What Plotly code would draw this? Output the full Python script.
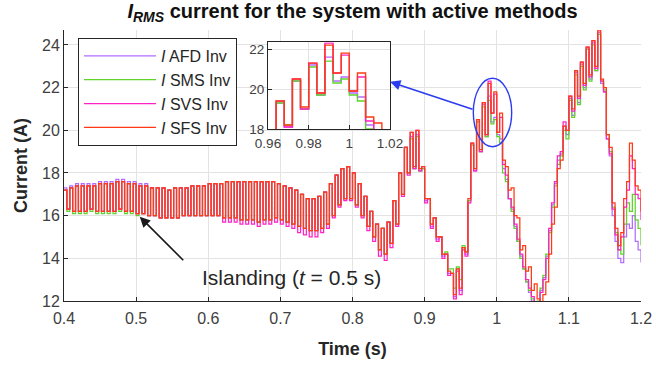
import numpy as np
import plotly.graph_objects as go

# time grid (s)
T_START, T_STEP, N_PTS = 0.4, 0.004, 201
time_s = np.round(T_START + T_STEP * np.arange(N_PTS), 4)

series_names = ["<i>I</i> AFD Inv", "<i>I</i> SMS Inv", "<i>I</i> SVS Inv", "<i>I</i> SFS Inv"]
series_colors = ["#b46cff", "#5fd32c", "#ff22c4", "#ff3a14"]

afd = [
    17.3, 16.3, 17.4, 16.2, 17.5, 16.2, 17.5, 16.2, 17.5, 16.3,
    17.5, 16.2, 17.6, 16.2, 17.6, 16.2, 17.6, 16.2, 17.7, 16.3,
    17.7, 16.2, 17.6, 16.2, 17.6, 16.1, 17.5, 16.1, 17.5, 16.0,
    17.3, 16.0, 17.3, 15.9, 17.3, 15.9, 17.2, 15.9, 17.3, 15.9,
    17.3, 16.0, 17.3, 16.0, 17.4, 16.0, 17.4, 16.0, 17.4, 16.0,
    17.5, 16.0, 17.5, 16.0, 17.5, 15.9, 17.6, 15.9, 17.6, 15.9,
    17.6, 15.8, 17.6, 15.8, 17.6, 15.8, 17.6, 15.7, 17.6, 15.8,
    17.6, 15.8, 17.6, 15.9, 17.5, 15.8, 17.4, 15.7, 17.3, 15.6,
    17.2, 15.5, 17.0, 15.4, 16.8, 15.3, 16.8, 15.3, 16.9, 15.4,
    17.1, 15.6, 17.5, 16.0, 17.9, 16.5, 18.2, 16.8, 18.3, 16.8,
    18.0, 16.5, 17.5, 16.0, 16.9, 15.5, 16.2, 15.0, 15.6, 14.4,
    15.4, 14.2, 15.7, 14.7, 16.7, 15.6, 18.0, 17.0, 19.2, 18.0,
    19.7, 18.2, 19.8, 18.1, 18.2, 16.7, 16.8, 15.5, 15.9, 14.9,
    15.0, 14.1, 14.2, 13.3, 13.3, 12.2, 13.5, 12.5, 14.5, 14.2,
    16.7, 19.3, 18.1, 20.4, 19.0, 21.2, 19.7, 21.6, 20.4, 20.6,
    19.8, 19.6, 18.2, 17.7, 16.8, 16.3, 15.5, 14.8, 14.1, 13.5,
    12.9, 12.4, 12.0, 11.7, 11.9, 12.5, 13.1, 14.1, 15.3, 16.5,
    17.5, 18.6, 18.9, 20.2, 19.8, 21.5, 20.7, 22.7, 21.3, 23.1,
    22.0, 23.8, 22.4, 24.1, 22.8, 24.5, 22.2, 21.8, 19.6, 18.8,
    16.0, 14.8, 14.0, 13.8, 15.0, 15.6, 15.4, 16.0, 14.8, 14.4,
    13.8,
]

sms = [
    17.2, 16.2, 17.3, 16.1, 17.4, 16.1, 17.4, 16.1, 17.4, 16.2,
    17.4, 16.1, 17.5, 16.1, 17.5, 16.1, 17.5, 16.1, 17.6, 16.2,
    17.6, 16.1, 17.5, 16.1, 17.5, 16.0, 17.4, 16.1, 17.4, 16.0,
    17.3, 16.0, 17.3, 15.9, 17.3, 15.9, 17.2, 15.9, 17.3, 15.9,
    17.3, 16.0, 17.3, 16.0, 17.4, 16.0, 17.4, 16.0, 17.4, 16.0,
    17.5, 16.0, 17.5, 16.0, 17.5, 15.9, 17.6, 15.9, 17.6, 15.9,
    17.6, 15.8, 17.6, 15.8, 17.6, 15.8, 17.6, 15.7, 17.6, 15.8,
    17.6, 15.8, 17.6, 15.9, 17.5, 15.8, 17.4, 15.7, 17.3, 15.6,
    17.2, 15.5, 17.0, 15.4, 16.8, 15.3, 16.8, 15.3, 16.9, 15.4,
    17.1, 15.6, 17.5, 16.0, 17.9, 16.5, 18.2, 16.8, 18.3, 16.8,
    18.0, 16.5, 17.5, 16.0, 16.9, 15.5, 16.2, 15.0, 15.6, 14.4,
    15.4, 14.2, 15.7, 14.7, 16.7, 15.6, 18.0, 17.0, 19.2, 18.0,
    19.6, 18.2, 19.7, 18.1, 18.2, 16.8, 16.8, 15.6, 15.9, 15.0,
    15.0, 14.2, 14.3, 13.5, 13.5, 12.6, 13.6, 13.0, 14.6, 14.3,
    16.7, 19.3, 18.2, 20.4, 19.0, 21.1, 19.7, 21.4, 20.3, 20.5,
    19.7, 19.4, 18.0, 17.6, 16.8, 16.2, 15.4, 14.8, 14.0, 13.5,
    12.9, 12.5, 12.1, 11.8, 12.0, 12.6, 13.2, 14.2, 15.2, 16.4,
    17.4, 18.4, 18.8, 20.0, 19.6, 21.4, 20.6, 22.6, 21.2, 23.0,
    21.9, 23.8, 22.3, 24.0, 22.8, 24.5, 22.3, 21.9, 19.8, 19.0,
    16.4, 15.2, 14.4, 14.2, 15.6, 16.6, 16.2, 17.0, 15.8, 15.4,
    14.6,
]

svs = [
    17.2, 16.3, 17.3, 16.2, 17.4, 16.2, 17.4, 16.2, 17.4, 16.3,
    17.4, 16.2, 17.5, 16.2, 17.5, 16.2, 17.5, 16.2, 17.6, 16.3,
    17.6, 16.2, 17.5, 16.2, 17.5, 16.1, 17.4, 16.1, 17.4, 16.0,
    17.3, 16.0, 17.3, 15.9, 17.3, 15.9, 17.2, 15.9, 17.3, 15.9,
    17.3, 16.0, 17.3, 16.0, 17.4, 16.0, 17.4, 16.0, 17.4, 16.0,
    17.5, 16.0, 17.5, 16.0, 17.5, 15.7, 17.6, 15.7, 17.6, 15.7,
    17.6, 15.6, 17.6, 15.6, 17.6, 15.6, 17.6, 15.5, 17.6, 15.6,
    17.6, 15.6, 17.6, 15.7, 17.5, 15.6, 17.4, 15.5, 17.3, 15.4,
    17.2, 15.2, 17.0, 15.1, 16.8, 15.0, 16.8, 15.0, 16.9, 15.2,
    17.1, 15.4, 17.5, 15.9, 17.9, 16.4, 18.2, 16.7, 18.3, 16.7,
    18.0, 16.4, 17.5, 15.9, 16.9, 15.3, 16.2, 14.8, 15.6, 14.1,
    15.4, 13.9, 15.7, 14.5, 16.7, 15.5, 18.0, 16.9, 19.2, 17.9,
    19.9, 18.2, 20.0, 18.1, 18.3, 16.6, 16.8, 15.4, 15.9, 14.8,
    15.0, 14.0, 14.2, 13.2, 13.3, 12.1, 13.4, 12.3, 14.4, 14.1,
    16.6, 19.4, 18.1, 20.5, 19.0, 21.3, 19.8, 22.3, 20.8, 21.7,
    19.9, 20.6, 18.4, 17.9, 16.8, 16.4, 15.6, 14.9, 14.2, 13.6,
    13.0, 12.6, 12.2, 11.8, 11.9, 12.4, 13.0, 14.0, 15.4, 16.6,
    17.6, 18.8, 19.0, 20.4, 20.0, 21.6, 20.9, 22.8, 21.5, 23.2,
    22.1, 23.9, 22.5, 24.2, 22.9, 24.6, 22.3, 21.8, 19.6, 18.9,
    16.3, 15.1, 14.4, 15.0, 16.4, 17.2, 18.8, 18.2, 17.0, 16.8,
    15.8,
]

sfs = [
    17.2, 16.3, 17.3, 16.2, 17.4, 16.2, 17.4, 16.2, 17.4, 16.3,
    17.4, 16.2, 17.5, 16.2, 17.5, 16.2, 17.5, 16.2, 17.6, 16.3,
    17.6, 16.2, 17.5, 16.2, 17.5, 16.1, 17.4, 16.1, 17.4, 16.0,
    17.3, 16.0, 17.3, 15.9, 17.3, 15.9, 17.2, 15.9, 17.3, 15.9,
    17.3, 16.0, 17.3, 16.0, 17.4, 16.0, 17.4, 16.0, 17.4, 16.0,
    17.5, 16.0, 17.5, 16.0, 17.5, 15.9, 17.6, 15.9, 17.6, 15.9,
    17.6, 15.8, 17.6, 15.8, 17.6, 15.8, 17.6, 15.7, 17.6, 15.8,
    17.6, 15.8, 17.6, 15.9, 17.5, 15.8, 17.4, 15.7, 17.3, 15.6,
    17.2, 15.5, 17.0, 15.4, 16.8, 15.3, 16.8, 15.3, 16.9, 15.4,
    17.1, 15.6, 17.5, 16.0, 17.9, 16.5, 18.2, 16.8, 18.3, 16.8,
    18.0, 16.5, 17.5, 16.0, 16.9, 15.5, 16.2, 15.0, 15.6, 14.4,
    15.4, 14.2, 15.7, 14.7, 16.7, 15.6, 18.0, 17.0, 19.2, 18.0,
    19.9, 18.3, 20.0, 18.2, 18.3, 16.8, 16.8, 15.6, 15.9, 15.0,
    15.0, 14.2, 14.2, 13.4, 13.3, 12.3, 13.5, 12.6, 14.5, 14.3,
    16.8, 19.4, 18.2, 20.5, 19.1, 21.3, 19.8, 22.2, 20.8, 21.8,
    19.9, 20.8, 18.6, 18.3, 17.2, 17.3, 16.0, 15.9, 14.4, 14.6,
    13.4, 13.6, 12.5, 12.8, 12.1, 11.8, 12.3, 12.9, 14.2, 15.6,
    16.4, 18.2, 18.6, 20.2, 20.0, 21.6, 21.0, 22.8, 21.6, 23.2,
    22.2, 23.9, 22.6, 24.2, 23.0, 24.7, 22.4, 22.0, 19.8, 19.2,
    16.6, 15.4, 14.6, 15.2, 16.8, 17.6, 19.4, 18.6, 17.4, 17.2,
    16.2,
]

all_series = [afd, sms, svs, sfs]

x_ticks_main = [0.4, 0.5, 0.6, 0.7, 0.8, 0.9, 1.0, 1.1, 1.2]
x_ticklabels_main = ["0.4", "0.5", "0.6", "0.7", "0.8", "0.9", "1", "1.1", "1.2"]
y_ticks_main = [12, 14, 16, 18, 20, 22, 24]
x_ticks_inset = [0.96, 0.98, 1.0, 1.02]
x_ticklabels_inset = ["0.96", "0.98", "1", "1.02"]
y_ticks_inset = [18, 20, 22]

FONT = "Liberation Sans, Arial, Helvetica, sans-serif"
TXT = "#262626"

fig = go.Figure()
for name, vals, col in zip(series_names, all_series, series_colors):
    fig.add_trace(go.Scatter(
        x=time_s, y=vals, name=name, mode="lines",
        line=dict(color=col, width=1.25, shape="hv"),
        legendgroup=name, xaxis="x", yaxis="y"))
for name, vals, col in zip(series_names, all_series, series_colors):
    fig.add_trace(go.Scatter(
        x=time_s, y=vals, name=name, mode="lines", showlegend=False,
        line=dict(color=col, width=1.4, shape="hv"),
        legendgroup=name, xaxis="x2", yaxis="y2"))

axis_common = dict(showgrid=True, gridcolor="#e3e3e3", gridwidth=1, zeroline=False,
                   showline=True, linecolor=TXT, linewidth=1, ticks="inside",
                   ticklen=4, tickcolor=TXT, automargin=False)

fig.update_layout(
    width=656, height=367,
    margin=dict(l=64, r=15, t=30, b=66, pad=0),
    paper_bgcolor="white", plot_bgcolor="white",
    font=dict(family=FONT, color=TXT),
    title=dict(text="<b><i>I</i><sub><i>RMS</i></sub> current for the system with active methods</b>",
               x=352.5 / 656, xanchor="center", y=0.99, yanchor="top",
               font=dict(size=20, color="#111111")),
    xaxis=dict(domain=[0, 1], range=[0.4, 1.2], tickvals=x_ticks_main, ticktext=x_ticklabels_main,
               tickfont=dict(size=16, color="#404040"), ticklabelstandoff=3,
               title=dict(text="<b>Time (s)</b>", font=dict(size=18, color="#262626"), standoff=16),
               anchor="y", **axis_common),
    yaxis=dict(domain=[0, 1], range=[12, 24.7], tickvals=y_ticks_main,
               tickfont=dict(size=16, color="#404040"),
               title=dict(text="<b>Current (A)</b>", font=dict(size=18, color="#262626"), standoff=9),
               anchor="x", **axis_common),
    xaxis2=dict(domain=[(268 - 64) / 577, (390 - 64) / 577], range=[0.96, 1.02],
                tickvals=x_ticks_inset, ticktext=x_ticklabels_inset, ticklabelstandoff=2,
                tickfont=dict(size=13.5, color="#404040"), anchor="y2", mirror=True,
                **axis_common),
    yaxis2=dict(domain=[(301 - 129) / 271, (301 - 42.3) / 271], range=[18, 22.34],
                tickvals=y_ticks_inset, tickfont=dict(size=13.5, color="#404040"),
                anchor="x2", mirror=True, **axis_common),
    legend=dict(x=(78 - 64) / 577, y=(301 - 38) / 271, xanchor="left", yanchor="top",
                bgcolor="white", bordercolor="#262626", borderwidth=1,
                font=dict(size=16, color="#262626"), tracegroupgap=0, itemwidth=72),
    showlegend=True,
)

fig.add_shape(type="circle", xref="x", yref="y", x0=0.9675, x1=1.0207, y0=19.23, y1=22.44,
              line=dict(color="#2b3cf0", width=1.4))

fig.add_annotation(x=0.852, y=22.27, xref="x", yref="y", text="", showarrow=True,
                   ax=84, ay=28, arrowhead=2, arrowsize=1.3, arrowwidth=1.6,
                   arrowcolor="#2b3cf0")
fig.add_annotation(x=0.505, y=15.95, xref="x", yref="y", text="", showarrow=True,
                   ax=45, ay=45, arrowhead=2, arrowsize=1.3, arrowwidth=1.6,
                   arrowcolor="#1a1a1a")
fig.add_annotation(x=0.716, y=13.12, xref="x", yref="y",
                   text="Islanding (<i>t</i> = 0.5 s)", showarrow=False,
                   font=dict(size=21, color="#262626"))

fig.write_html("out.html")
